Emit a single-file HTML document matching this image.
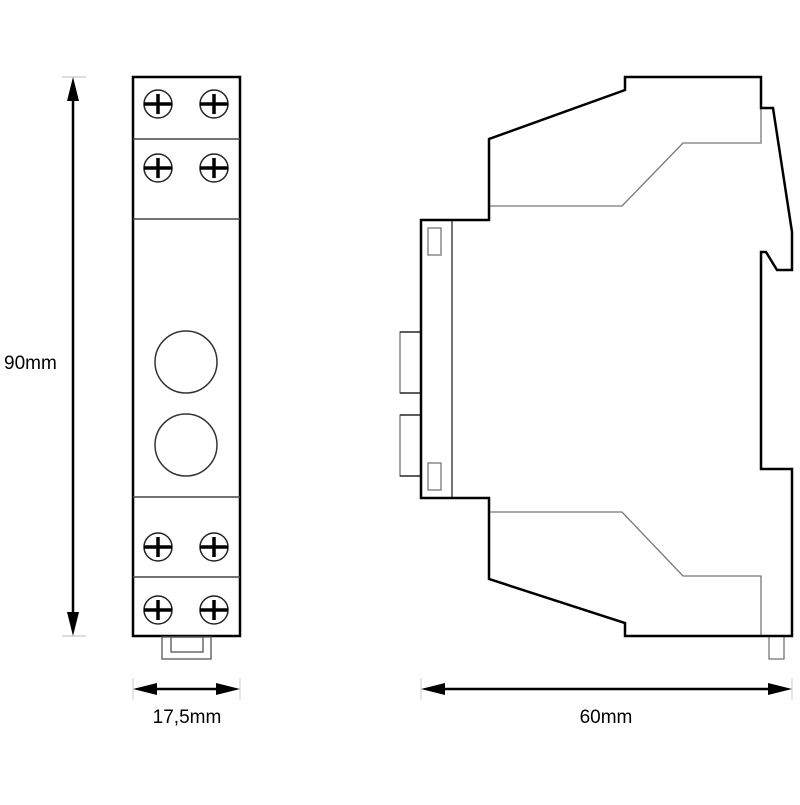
<!DOCTYPE html>
<html><head><meta charset="utf-8"><style>html,body{margin:0;padding:0;background:#fff}</style></head>
<body>
<svg width="800" height="800" viewBox="0 0 800 800" xmlns="http://www.w3.org/2000/svg" font-family="Liberation Sans, sans-serif">
<defs>
<g id="scr"><circle r="14" fill="#fff" stroke="#222" stroke-width="1.5"/><line x1="-14" y1="0" x2="14" y2="0" stroke="#000" stroke-width="3.5"/><line x1="0" y1="-10" x2="0" y2="10" stroke="#000" stroke-width="3.5"/></g>
</defs>
<line x1="62" y1="77" x2="86" y2="77" stroke="#bbb"/>
<line x1="62" y1="636" x2="86" y2="636" stroke="#bbb"/>
<line x1="73" y1="95" x2="73" y2="618" stroke="#000" stroke-width="2.5"/>
<polygon points="73,77 67,101 79,101" fill="#000"/>
<polygon points="73,636 67,612 79,612" fill="#000"/>
<text x="4" y="369" font-size="19">90mm</text>
<rect x="133" y="77" width="107" height="559" fill="#fff" stroke="#000" stroke-width="2.5"/>
<g stroke="#444" stroke-width="1.5"><line x1="133" y1="139" x2="240" y2="139"/><line x1="133" y1="219" x2="240" y2="219"/><line x1="133" y1="497" x2="240" y2="497"/><line x1="133" y1="577" x2="240" y2="577"/></g>
<use href="#scr" x="158" y="104"/><use href="#scr" x="214" y="104"/>
<use href="#scr" x="158" y="168"/><use href="#scr" x="214" y="168"/>
<use href="#scr" x="158" y="547"/><use href="#scr" x="214" y="547"/>
<use href="#scr" x="158" y="610"/><use href="#scr" x="214" y="610"/>
<circle cx="186" cy="362" r="31" fill="none" stroke="#333" stroke-width="1.5"/>
<circle cx="186" cy="445" r="31" fill="none" stroke="#333" stroke-width="1.5"/>
<rect x="162" y="637" width="49" height="22" fill="none" stroke="#555" stroke-width="1.3"/>
<rect x="171" y="637" width="32" height="15" fill="none" stroke="#555" stroke-width="1.3"/>
<line x1="133" y1="678" x2="133" y2="700" stroke="#ccc"/>
<line x1="240" y1="678" x2="240" y2="700" stroke="#ccc"/>
<line x1="150" y1="689" x2="223" y2="689" stroke="#000" stroke-width="2.5"/>
<polygon points="133,689 157,683 157,695" fill="#000"/>
<polygon points="240,689 216,683 216,695" fill="#000"/>
<text x="187" y="723" font-size="19" text-anchor="middle">17,5mm</text>
<g fill="none" stroke="#777" stroke-width="1.3">
<rect x="400" y="332" width="21" height="61"/>
<rect x="400" y="415" width="21" height="61"/>
<rect x="428" y="228" width="13" height="27"/>
<rect x="428" y="463" width="13" height="27"/>
<rect x="769" y="636" width="15" height="23"/>
<polyline points="489,206 622,206 683,143 761,143 761,108"/>
<polyline points="489,512 622,512 683,576 761,576 761,636"/>
</g>
<g stroke="#333" stroke-width="1.5"><line x1="400" y1="332" x2="421" y2="332"/><line x1="400" y1="393" x2="421" y2="393"/><line x1="400" y1="415" x2="421" y2="415"/><line x1="400" y1="476" x2="421" y2="476"/></g>
<line x1="452" y1="220" x2="452" y2="498" stroke="#444" stroke-width="1.5"/>
<polygon fill="none" stroke="#000" stroke-width="2.5" stroke-linejoin="miter" points="421,220 489,220 489,139 625,90 625,77 761,77 761,108 773,108 792,232 792,270 777,270 766,252 761,252 761,469 792,469 792,636 625,636 625,623 489,579 489,498 421,498"/>
<line x1="421" y1="678" x2="421" y2="700" stroke="#ccc"/>
<line x1="792" y1="678" x2="792" y2="700" stroke="#ccc"/>
<line x1="438" y1="689" x2="775" y2="689" stroke="#000" stroke-width="2.5"/>
<polygon points="421,689 445,683 445,695" fill="#000"/>
<polygon points="792,689 768,683 768,695" fill="#000"/>
<text x="606" y="723" font-size="19" text-anchor="middle">60mm</text>
</svg>
</body></html>
